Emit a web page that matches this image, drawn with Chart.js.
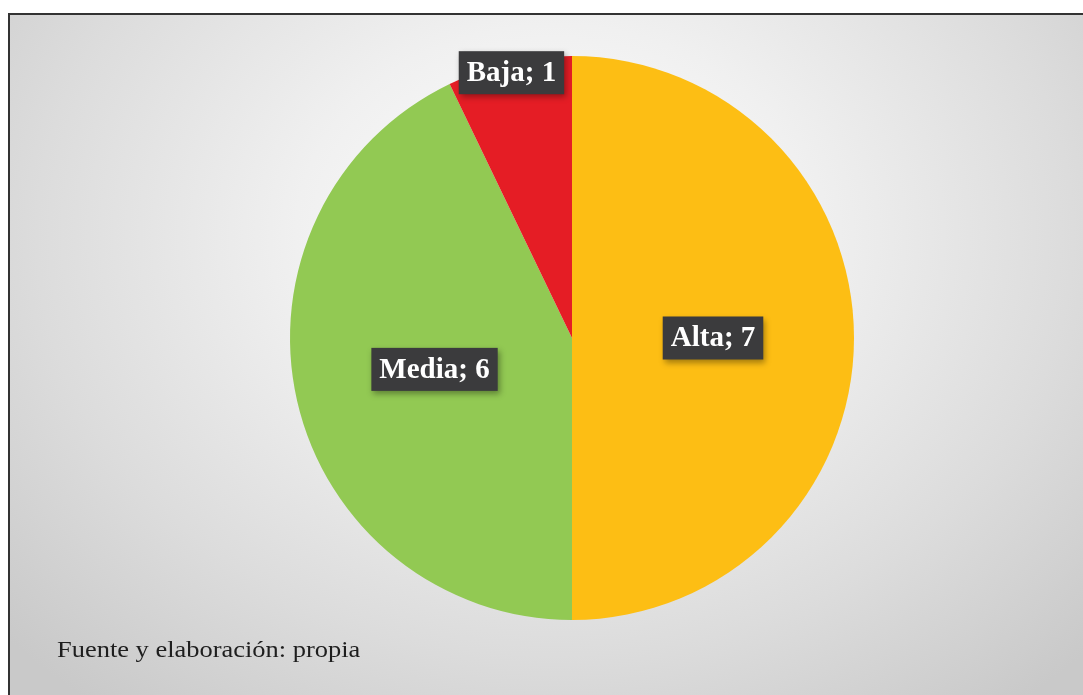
<!DOCTYPE html>
<html>
<head>
<meta charset="utf-8">
<script src="https://cdn.jsdelivr.net/npm/chart.js@4.4.0/dist/chart.umd.min.js"></script>
<style>
  html, body { margin: 0; padding: 0; background: #fff; }
  #wrap { position: relative; width: 1083px; height: 695px; overflow: hidden; }
  #frame {
    position: absolute; left: 8px; top: 13px; right: -4px; bottom: -4px;
    border-left: 2px solid #333; border-top: 2px solid #333;
    background: radial-gradient(ellipse 740px 600px at 545px 220px, #ffffff 0%, #f0f0f0 35%, #dcdcdc 70%, #c9c9c9 100%);
  }
  #chart { position: absolute; left: 0; top: 0; }
  #source {
    position: absolute; left: 57px; top: 637px;
    font-family: "Liberation Serif", "Times New Roman", serif;
    font-size: 23px; color: #1e1e1e;
    transform: scaleX(1.15); transform-origin: left top;
  }
</style>
</head>
<body>
<div id="wrap">
  <div id="frame"></div>
  <canvas id="chart" width="1083" height="695"></canvas>
  <div id="source">Fuente y elaboración: propia</div>
</div>
<script>
const categories = ['Alta', 'Media', 'Baja'];
const counts = [7, 6, 1];
const sliceColors = ['#FDBE14', '#92C953', '#E51D25'];

// how far out along the radius each label sits
const labelRadius = [0.5, 0.5, 0.965];

// dark boxed labels like "Alta; 7"
const boxLabels = {
  id: 'boxLabels',
  afterDatasetsDraw(chart) {
    const ctx = chart.ctx;
    const meta = chart.getDatasetMeta(0);
    ctx.save();
    ctx.font = 'bold 29px "Liberation Serif", "Times New Roman", serif';
    ctx.textAlign = 'center';
    ctx.textBaseline = 'middle';
    meta.data.forEach((arc, i) => {
      const p = arc.getProps(['x', 'y', 'startAngle', 'endAngle', 'outerRadius']);
      const mid = (p.startAngle + p.endAngle) / 2;
      const r = p.outerRadius * labelRadius[i];
      const cx = p.x + Math.cos(mid) * r;
      const cy = p.y + Math.sin(mid) * r;
      const text = categories[i] + '; ' + counts[i];
      const w = ctx.measureText(text).width + 16;
      const h = 43;
      ctx.shadowColor = 'rgba(0,0,0,0.35)';
      ctx.shadowBlur = 6;
      ctx.shadowOffsetX = 2;
      ctx.shadowOffsetY = 3;
      ctx.fillStyle = '#3b3b3d';
      ctx.fillRect(cx - w / 2, cy - h / 2, w, h);
      ctx.shadowColor = 'transparent';
      ctx.fillStyle = '#ffffff';
      ctx.fillText(text, cx, cy + 1);
    });
    ctx.restore();
  }
};

new Chart(document.getElementById('chart').getContext('2d'), {
  type: 'pie',
  data: {
    labels: categories,
    datasets: [{
      data: counts,
      backgroundColor: sliceColors,
      borderWidth: 0
    }]
  },
  options: {
    responsive: false,
    animation: false,
    layout: { padding: { top: 56, bottom: 75, left: 100, right: 39 } },
    plugins: {
      legend: { display: false },
      tooltip: { enabled: false }
    }
  },
  plugins: [boxLabels]
});
</script>
</body>
</html>
